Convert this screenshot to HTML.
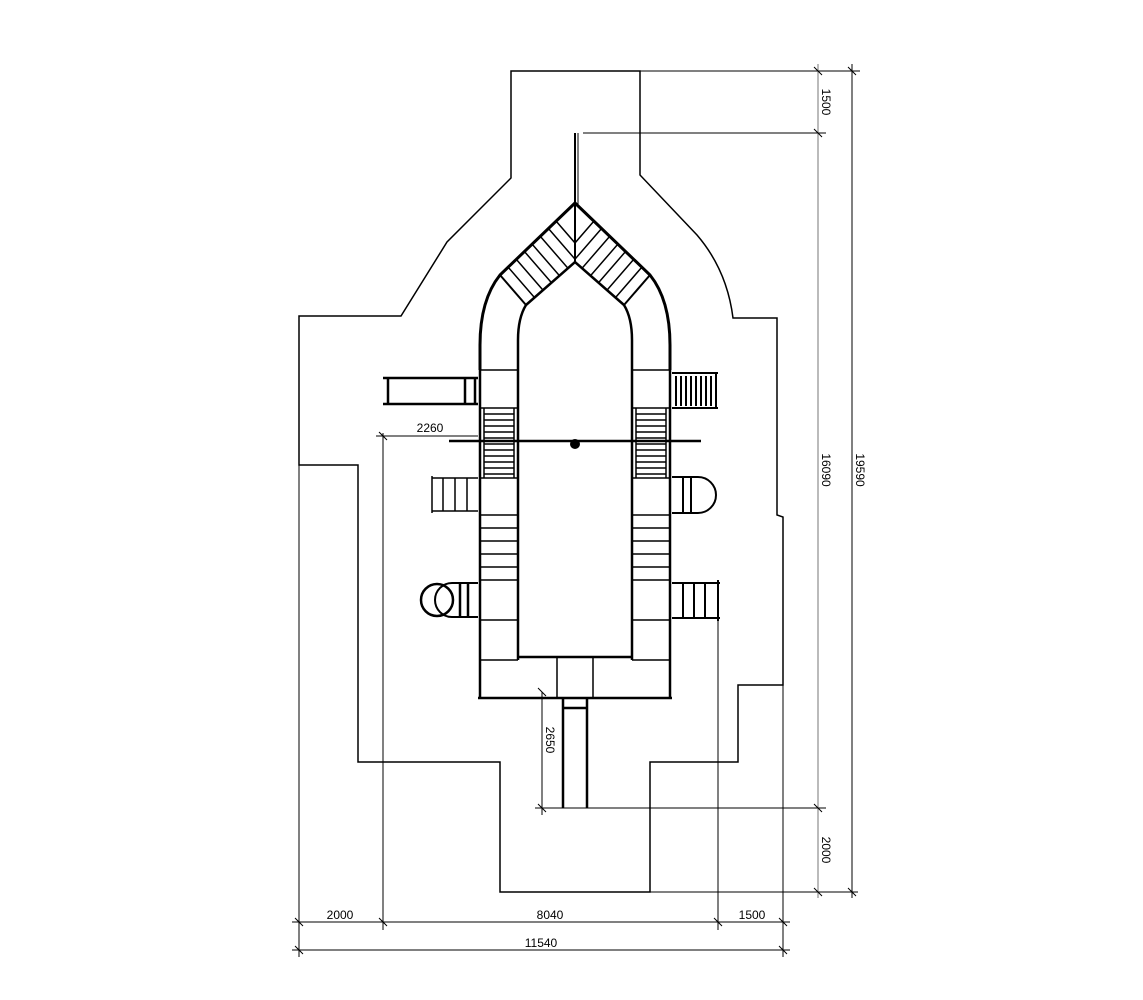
<!DOCTYPE html>
<html><head><style>html,body{margin:0;padding:0;background:#fff}svg{display:block}</style></head>
<body>
<svg width="1143" height="1000" viewBox="0 0 1143 1000" xmlns="http://www.w3.org/2000/svg" font-family="Liberation Sans, sans-serif" font-size="12" fill="none">
<defs>
<clipPath id="band"><polygon points="500,275 575,203 575,262 526,305"/></clipPath>
</defs>
<!-- outer boundary -->
<path d="M511,71 L640,71 L640,175 L697,235 Q727,270 733,318 L777,318 L777,515 L783,517 L783,685 L738,685 L738,762 L650,762 L650,892 L500,892 L500,762 L358,762 L358,465 L299,465 L299,316 L401,316 L447,242 L511,178 Z" stroke="#000" stroke-width="1.5"/>
<!-- dimension lines -->
<g stroke="#000" stroke-width="1">
<line x1="640" y1="71" x2="860" y2="71"/>
<line x1="583" y1="133" x2="826" y2="133"/>
<line x1="540" y1="808" x2="826" y2="808"/>
<line x1="650" y1="892" x2="858" y2="892"/>
<line x1="818" y1="64" x2="818" y2="898" stroke="#777"/>
<line x1="852" y1="64" x2="852" y2="898"/>
<line x1="299" y1="465" x2="299" y2="957"/>
<line x1="383" y1="433" x2="383" y2="930"/>
<line x1="718" y1="582" x2="718" y2="930"/>
<line x1="783" y1="685" x2="783" y2="957"/>
<line x1="292" y1="922" x2="790" y2="922"/>
<line x1="292" y1="950" x2="790" y2="950"/>
<line x1="376" y1="436" x2="478" y2="436"/>
<line x1="542" y1="692" x2="542" y2="815"/>
<line x1="535" y1="808" x2="548" y2="808"/>
<path d="M814,67 L822,75 M848,67 L856,75 M814,129 L822,137 M814,804 L822,812 M814,888 L822,896 M848,888 L856,896 M295,918 L303,926 M379,918 L387,926 M714,918 L722,926 M779,918 L787,926 M295,946 L303,954 M779,946 L787,954 M379,432 L387,440 M538,688 L546,696 M538,804 L546,812"/>
</g>
<g fill="#000" stroke="none">
<text x="340" y="919" text-anchor="middle">2000</text>
<text x="550" y="919" text-anchor="middle">8040</text>
<text x="752" y="919" text-anchor="middle">1500</text>
<text x="541" y="947" text-anchor="middle">11540</text>
<text x="430" y="432" text-anchor="middle">2260</text>
<text transform="translate(822,102) rotate(90)" text-anchor="middle">1500</text>
<text transform="translate(822,470) rotate(90)" text-anchor="middle">16090</text>
<text transform="translate(822,850) rotate(90)" text-anchor="middle">2000</text>
<text transform="translate(856,470) rotate(90)" text-anchor="middle">19590</text>
<text transform="translate(546,740) rotate(90)" text-anchor="middle">2650</text>
</g>
<!-- structure -->
<g stroke="#000" stroke-width="2">
<line x1="575" y1="133" x2="575" y2="262"/>
<line x1="578" y1="133" x2="578" y2="205" stroke-width="1"/>
<path d="M480,370 L480,345 Q480,300 500,275 L575,203 L650,275 Q670,300 670,345 L670,370" stroke-width="3"/>
<path d="M518,370 L518,340 Q518,318 526,305 L575,262 L624,305 Q632,318 632,340 L632,370" stroke-width="2.5"/>
<line x1="500" y1="275" x2="526" y2="305"/>
<line x1="650" y1="275" x2="624" y2="305"/>
</g>
<g id="rungs" stroke="#000" stroke-width="1.5" clip-path="url(#band)">
<path d="M508,267 l39,45 M516,259 l39,45 M524,251 l39,45 M532,244 l39,45 M540,236 l39,45 M548,228 l39,45 M556,221 l39,45"/>
</g>
<g transform="translate(1150,0) scale(-1,1)">
<g stroke="#000" stroke-width="1.5" clip-path="url(#band)">
<path d="M508,267 l39,45 M516,259 l39,45 M524,251 l39,45 M532,244 l39,45 M540,236 l39,45 M548,228 l39,45 M556,221 l39,45"/>
</g>
</g>
<!-- columns -->
<g stroke="#000" stroke-width="2.5">
<line x1="480" y1="370" x2="480" y2="698"/><line x1="518" y1="370" x2="518" y2="660"/>
<line x1="670" y1="370" x2="670" y2="698"/><line x1="632" y1="370" x2="632" y2="660"/>
<line x1="518" y1="657" x2="632" y2="657"/>
<line x1="478" y1="698" x2="672" y2="698"/>
</g>
<g stroke="#000" stroke-width="1.5">
<path d="M480,370 H518 M480,408 H518 M480,478 H518 M480,515 H518 M480,580 H518 M480,620 H518 M480,660 H518"/>
<path d="M632,370 H670 M632,408 H670 M632,478 H670 M632,515 H670 M632,580 H670 M632,620 H670 M632,660 H670"/>
<path d="M484,408 V478 M514,408 V478 M636,408 V478 M666,408 V478"/>
<path d="M484,414 H514 M484,420 H514 M484,426 H514 M484,432 H514 M484,438 H514 M484,444 H514 M484,450 H514 M484,456 H514 M484,462 H514 M484,468 H514 M484,474 H514"/>
<path d="M636,414 H666 M636,420 H666 M636,426 H666 M636,432 H666 M636,438 H666 M636,444 H666 M636,450 H666 M636,456 H666 M636,462 H666 M636,468 H666 M636,474 H666"/>
<path d="M480,528 H518 M480,541 H518 M480,554 H518 M480,567 H518"/>
<path d="M632,528 H670 M632,541 H670 M632,554 H670 M632,567 H670"/>
<rect x="557" y="657" width="36" height="41"/>
<path d="M563,698 V808 M587,698 V808 M563,708 H587" stroke-width="2.5"/>
<line x1="449" y1="441" x2="701" y2="441" stroke-width="2.5"/>
<path d="M383,378 H478 M383,404 H478 M388,378 V404 M465,378 V404 M475,378 V404" stroke-width="2.5"/>
<path d="M432,476 V513 M432,478 H478 M432,511 H478 M443,478 V511 M455,478 V511 M467,478 V511"/>
<circle cx="437" cy="600" r="16" stroke-width="2.5"/>
<path d="M478,583 H452 A17,17 0 0 0 452,617 H478" stroke-width="2"/>
<path d="M460,584 V616 M468,584 V616" stroke-width="2.5"/>
<path d="M672,373 H718 M672,408 H718 M716,373 V408 M676,376 V406 M681,376 V406 M686,376 V406 M691,376 V406 M696,376 V406 M701,376 V406 M706,376 V406 M711,376 V406" stroke-width="2"/>
<path d="M672,477 H698 A18,18 0 0 1 698,513 H672 M683,478 V512 M691,478 V512" stroke-width="2"/>
<path d="M672,583 H720 M672,618 H720 M718,580 V621 M683,583 V618 M694,583 V618 M705,583 V618" stroke-width="2"/>
</g>
<circle cx="575" cy="444" r="5" fill="#000"/>
</svg>
</body></html>
